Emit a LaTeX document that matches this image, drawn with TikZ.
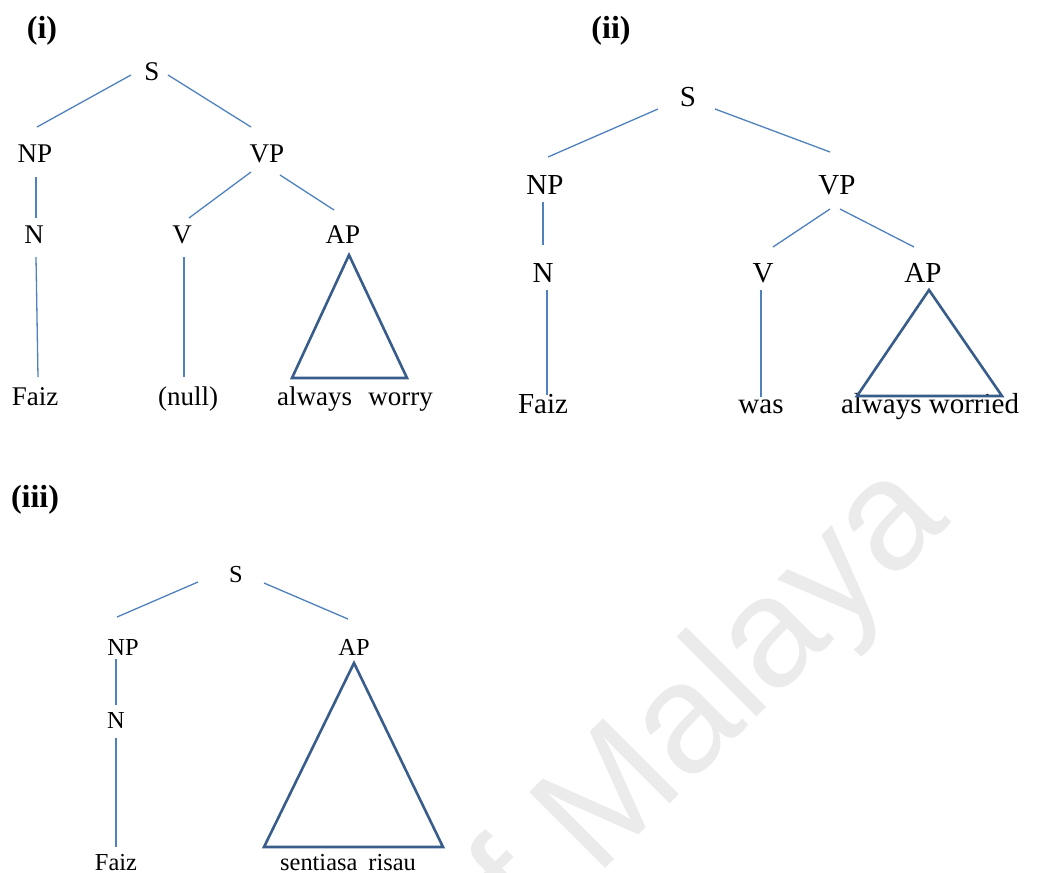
\documentclass[tikz,border=0pt]{standalone}
\usepackage{fontspec}
\setmainfont{Liberation Serif}
\newfontfamily\marksans{Liberation Sans}
\usepackage{xcolor}
\usepackage{tikz}

\definecolor{branchblue}{RGB}{79,129,189}
\definecolor{roofblue}{RGB}{56,93,138}

\begin{document}
\begin{tikzpicture}[
    x=0.5pt, y=-0.5pt,
    cat/.style={inner sep=0pt, anchor=base},
    cati/.style={cat, font=\fontsize{13.5}{16}\selectfont},
    catii/.style={cat, font=\fontsize{14.5}{17}\selectfont},
    catiii/.style={cat, font=\fontsize{12.2}{15}\selectfont},
    panel/.style={cat, font=\fontsize{16}{19}\selectfont\bfseries},
    watermark/.style={inner sep=0pt, rotate=45, text=black!8, font=\fontsize{78}{90}\selectfont\marksans},
    branch/.style={draw=branchblue, line width=0.65pt},
    roof/.style={draw=roofblue, line width=1.3pt, line join=miter}
]
\useasboundingbox (0,0) rectangle (1042,872);

% --- faint watermark behind everything ---
\node[watermark, anchor=base east] (wm) at (952,522) {of Malaya};

% --- panel labels ---
\node[panel] (lbli)   at (42,39)  {(i)};
\node[panel] (lblii)  at (611,39) {(ii)};
\node[panel] (lbliii) at (35,507) {(iii)};

% --- tree (i) ---
\node[cati] (s1)    at (152,81)  {S};
\node[cati] (np1)   at (35,162)  {NP};
\node[cati] (vp1)   at (267,162) {VP};
\node[cati] (n1)    at (34,243)  {N};
\node[cati] (v1)    at (182,243) {V};
\node[cati] (ap1)   at (343,243) {AP};
\node[cati] (faiz1) at (35,405)  {Faiz};
\node[cati] (null1) at (188,405) {(null)};
\node[cati] (aw1)   at (355,405) {always\hspace{0.6em}worry};

\draw[branch] ([shift={(-21,-6)}]s1.base) -- ([shift={(2,-35)}]np1.base);
\draw[branch] ([shift={(16,-6)}]s1.base) -- ([shift={(-16,-35)}]vp1.base);
\draw[branch] ([shift={(1,15)}]np1.base) -- ([shift={(2,-25)}]n1.base);
\draw[branch] ([shift={(-16,10)}]vp1.base) -- ([shift={(7,-25)}]v1.base);
\draw[branch] ([shift={(13,13)}]vp1.base) -- ([shift={(-9,-33)}]ap1.base);
\draw[branch] ([shift={(2,14)}]n1.base) -- ([shift={(3,-28)}]faiz1.base);
\draw[branch] ([shift={(2,14)}]v1.base) -- ([shift={(-4,-28)}]null1.base);
\draw[roof] ([shift={(6,12)}]ap1.base) -- ([shift={(-63,-27)}]aw1.base)
    -- ([shift={(52,-27)}]aw1.base) -- cycle;

% --- tree (ii) ---
\node[catii] (s2)    at (688,106) {S};
\node[catii] (np2)   at (545,194) {NP};
\node[catii] (vp2)   at (837,194) {VP};
\node[catii] (n2)    at (543,282) {N};
\node[catii] (v2)    at (763,282) {V};
\node[catii] (ap2)   at (923,282) {AP};
\node[catii] (faiz2) at (543,413) {Faiz};
\node[catii] (was2)  at (761,413) {was};
\node[catii] (aw2)   at (930,413) {always worried};

\draw[branch] ([shift={(-30,3)}]s2.base) -- ([shift={(3,-37)}]np2.base);
\draw[branch] ([shift={(27,3)}]s2.base) -- ([shift={(-7,-42)}]vp2.base);
\draw[branch] ([shift={(-2,8)}]np2.base) -- ([shift={(0,-37)}]n2.base);
\draw[branch] ([shift={(-7,15)}]vp2.base) -- ([shift={(10,-35)}]v2.base);
\draw[branch] ([shift={(3,15)}]vp2.base) -- ([shift={(-9,-35)}]ap2.base);
\draw[branch] ([shift={(4,8)}]n2.base) -- ([shift={(4,-18)}]faiz2.base);
\draw[branch] ([shift={(-2,8)}]v2.base) -- ([shift={(0,-16)}]was2.base);
\draw[roof] ([shift={(6,8)}]ap2.base) -- ([shift={(-73,-17)}]aw2.base)
    -- ([shift={(72,-17)}]aw2.base) -- cycle;

% --- tree (iii) ---
\node[catiii] (s3)    at (236,582) {S};
\node[catiii] (np3)   at (123,655) {NP};
\node[catiii] (ap3)   at (354,655) {AP};
\node[catiii] (n3)    at (116,728) {N};
\node[catiii] (faiz3) at (116,870) {Faiz};
\node[catiii] (sr3)   at (348,870) {sentiasa\hspace{0.45em}risau};

\draw[branch] ([shift={(-38,0)}]s3.base) -- ([shift={(-6,-38)}]np3.base);
\draw[branch] ([shift={(28,1)}]s3.base) -- ([shift={(-6,-36)}]ap3.base);
\draw[branch] ([shift={(-7,4)}]np3.base) -- ([shift={(0,-23)}]n3.base);
\draw[branch] ([shift={(0,10)}]n3.base) -- ([shift={(0,-23)}]faiz3.base);
\draw[roof] ([shift={(0,8)}]ap3.base) -- ([shift={(-84,-23)}]sr3.base)
    -- ([shift={(95,-23)}]sr3.base) -- cycle;

\end{tikzpicture}
\end{document}
